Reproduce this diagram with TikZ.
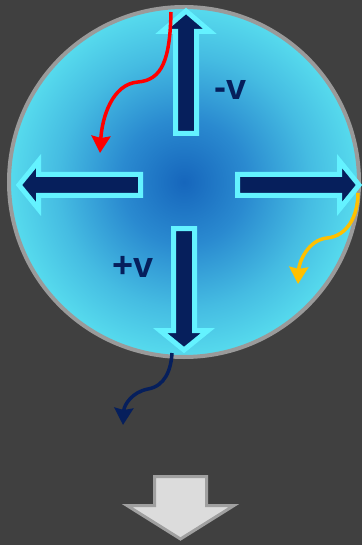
\documentclass[tikz,border=0pt]{standalone}
\usepackage{fontspec}
\setmainfont{Liberation Sans}
\usetikzlibrary{arrows.meta}
\definecolor{bgc}{HTML}{404040}
\definecolor{cin}{HTML}{1666BC}
\definecolor{cm1}{HTML}{2A8AD0}
\definecolor{cm2}{HTML}{45BCE2}
\definecolor{cout}{HTML}{5EE8F2}
\definecolor{rimc}{HTML}{9A9A9A}
\definecolor{navy}{HTML}{061F5C}
\definecolor{rimcyan}{HTML}{64F2FF}
\definecolor{gold}{HTML}{FFC000}
\definecolor{lgray}{HTML}{DCDCDC}
\definecolor{mgray}{HTML}{A0A0A0}
\pgfdeclareradialshading{ball}{\pgfpoint{0bp}{0bp}}{color(0bp)=(cin); color(9bp)=(cm1); color(18bp)=(cm2); color(28bp)=(cout); color(50bp)=(cout)}
\tikzset{
  bigarrow/.style={fill=navy, draw=rimcyan, line width=5pt, line join=miter},
  curvearrow/.style={line width=3.5pt, -{Stealth[length=17pt,width=19pt,inset=2pt]}},
  vlabel/.style={text=navy, font=\bfseries\fontsize{36}{36}\selectfont, inner sep=0pt}
}
\begin{document}
\begin{tikzpicture}[x=1pt,y=-1pt]
\fill[bgc] (0,0) rectangle (362,545);
\useasboundingbox (0,0) rectangle (362,545);
% ball
\shade[shading=ball] (184,182) circle[radius=175];
\draw[rimc, line width=4pt] (184,182) circle[radius=175];
% arrows
\draw[bigarrow] (175.5,133.5) -- (175.5,31.5) -- (162,31.5) -- (186,11) -- (210,31.5) -- (196.5,31.5) -- (196.5,133.5) -- cycle;
\draw[bigarrow] (173.5,228.5) -- (173.5,330.5) -- (160,330.5) -- (184,350) -- (208,330.5) -- (194.5,330.5) -- (194.5,228.5) -- cycle;
\draw[bigarrow] (237.5,174.5) -- (339.5,174.5) -- (339.5,161) -- (359,185) -- (339.5,209) -- (339.5,195.5) -- (237.5,195.5) -- cycle;
\draw[bigarrow] (140.5,174.5) -- (38.5,174.5) -- (38.5,161) -- (19,185) -- (38.5,209) -- (38.5,195.5) -- (140.5,195.5) -- cycle;
% labels
\node[vlabel] (minusv) at (231,90) {-v};
\node[vlabel] (plusv) at (133,267) {+v};
% curves
\coordinate (r0) at (171,12);
\coordinate (r1) at (138,82);
\coordinate (r2) at (100,153);
\draw[curvearrow, red] (r0) .. controls (170,60) and (162,80) .. (r1) .. controls (112,84) and (102,118) .. (r2);
\coordinate (y0) at (358,193);
\coordinate (y1) at (327,238);
\coordinate (y2) at (298,284);
\draw[curvearrow, gold] (y0) .. controls (358,215) and (348,236) .. (y1) .. controls (308,240) and (299,262) .. (y2);
\coordinate (n0) at (172,353);
\coordinate (n1) at (148,389);
\coordinate (n2) at (123,425);
\draw[curvearrow, navy] (n0) .. controls (171,370) and (165,386) .. (n1) .. controls (132,392) and (124,405) .. (n2);
% bottom arrow
\draw[fill=lgray, draw=mgray, line width=3pt, line join=miter] (154.5,476.5) -- (206.5,476.5) -- (206.5,505.5) -- (234,505.5) -- (180.5,539) -- (127,505.5) -- (154.5,505.5) -- cycle;
\end{tikzpicture}
\end{document}
